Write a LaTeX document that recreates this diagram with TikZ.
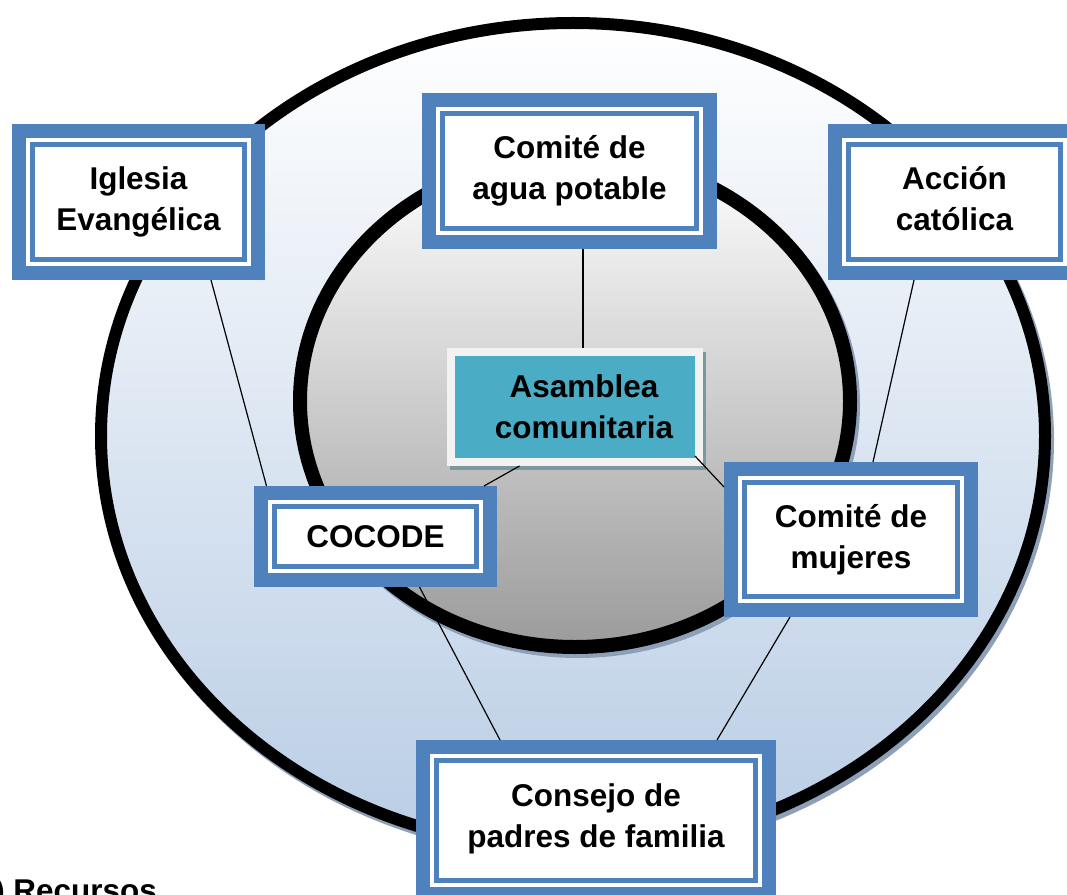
\documentclass[tikz,border=0pt]{standalone}
\usepackage{fontspec}
\setmainfont{Liberation Sans}
\usepackage{tikz}
\usetikzlibrary{shadows}
\definecolor{frameblue}{RGB}{79,129,189}
\definecolor{tealbox}{RGB}{75,172,198}
\definecolor{framewhite}{RGB}{242,242,242}
\definecolor{shadowteal}{RGB}{123,152,158}
\definecolor{ringblue}{RGB}{185,205,229}
\definecolor{coregray}{RGB}{155,155,155}
\definecolor{ringshadow}{RGB}{141,160,184}
\newcommand{\boxfont}{\bfseries\fontsize{23.6}{30.75}\selectfont}
\tikzstyle{link} = [draw=black, line width=0.9pt]
\tikzstyle{ring} = [draw=black, line width=9pt, top color=white, bottom color=ringblue]
\tikzstyle{core} = [draw=black, line width=10.5pt, top color=white, bottom color=coregray]
\tikzset{
 org/.style
  = {rectangle, draw=frameblue, fill=white, line width=10.5pt, inner sep=0pt,
     align=center, font=\boxfont,
     path picture={\draw[frameblue, line width=3.4pt]
       ([shift={(10.3pt,10.3pt)}]path picture bounding box.south west) rectangle
       ([shift={(-10.3pt,-10.3pt)}]path picture bounding box.north east);}},
 asam/.style
  = {rectangle, draw=framewhite, fill=tealbox, line width=6pt, inner sep=0pt,
     align=center, font=\boxfont, minimum width=186pt, minimum height=82.5pt,
     drop shadow={shadow xshift=2.25pt, shadow yshift=-3pt, opacity=1,
                  fill=shadowteal, draw=shadowteal}},
}

\begin{document}
\begin{tikzpicture}[x=0.75pt, y=-0.75pt]
\useasboundingbox (0,0) rectangle (1067,895);
\fill[ringshadow] (576,440) ellipse [x radius=358.5pt, y radius=314.25pt];
\path[ring] (573,436) ellipse [x radius=354pt, y radius=309.75pt];
\fill[ringshadow] (578,405) ellipse [x radius=211.5pt, y radius=189.75pt];
\path[core] (575,401) ellipse [x radius=206.25pt, y radius=184.5pt];
\node (asamblea) [asam] at (575,407) {\hspace*{13.5pt}Asamblea\\\hspace*{13.5pt}comunitaria};
\node (agua) [org, minimum width=210.75pt, minimum height=106.5pt] at (569.5,171) {Comité de\\agua potable};
\node (iglesia) [org, minimum width=179.25pt, minimum height=106.5pt] at (138.5,202) {Iglesia\\Evangélica};
\node (accion) [org, minimum width=179.25pt, minimum height=106.5pt] at (954.5,202) {Acción\\católica\vphantom{g}};
\node (cocode) [org, minimum width=171.75pt, minimum height=65.25pt] at (375.5,536.5) {COCODE};
\node (mujeres) [org, minimum width=180pt, minimum height=105.75pt] at (851,539.5) {Comité de\\mujeres};
\node (consejo) [org, minimum width=259.5pt, minimum height=110.25pt] at (596,820.5) {Consejo de\\padres de familia\\[-24pt]};
\node (recursos) [anchor=base west, inner sep=0pt, font=\boxfont] at (-6,901) {) Recursos};
\draw [link] ([shift={(72.5,0)}]iglesia.south) -- ([shift={(-109,0)}]cocode.north);
\draw [link] ([shift={(13.5,0)}]agua.south) -- ([shift={(8,0)}]asamblea.north);
\draw [link] ([shift={(-40.5,0)}]accion.south) -- ([shift={(22,0)}]mujeres.north);
\draw [link] ([shift={(-55.5,0)}]asamblea.south) -- ([shift={(108.5,0)}]cocode.north);
\draw [link] ([shift={(-8,-10)}]asamblea.south east) -- ([shift={(0,-52.5)}]mujeres.west);
\draw [link] ([shift={(44,0)}]cocode.south) -- ([shift={(-96,0)}]consejo.north);
\draw [link] ([shift={(-61,0)}]mujeres.south) -- ([shift={(121,0)}]consejo.north);
\end{tikzpicture}
\end{document}
